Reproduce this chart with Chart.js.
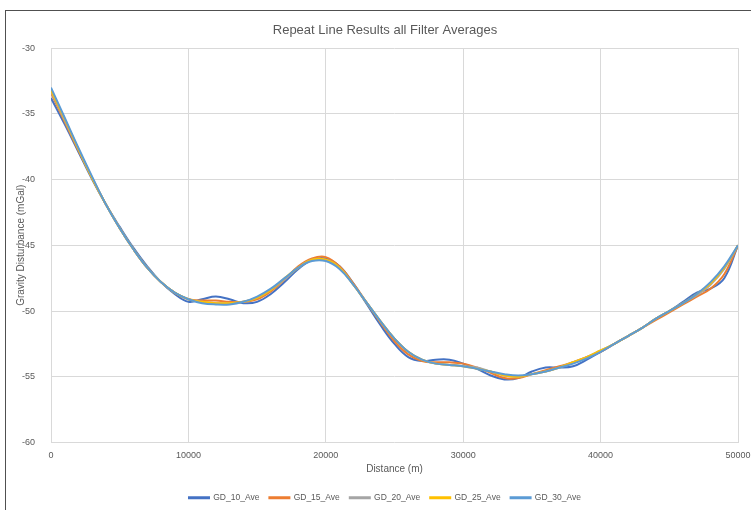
<!DOCTYPE html>
<html>
<head>
<meta charset="utf-8">
<script src="https://cdn.jsdelivr.net/npm/chart.js@4"></script>
<style>
  html, body { margin: 0; padding: 0; background: #fff; }
  body { width: 751px; height: 510px; overflow: hidden; position: relative; }
  #frame { position: absolute; left: 5px; top: 10px; width: 900px; height: 700px; border: 1px solid #505050; box-sizing: border-box; }
  #wrap { position: absolute; left: 0; top: 0; width: 751px; height: 510px; }
</style>
</head>
<body>
<div id="frame"></div>
<div id="wrap"><canvas id="c" width="751" height="510"></canvas></div>
<script>
// Distance along the repeat line (m)
const distance = [
  0, 1000, 2000, 3000, 4000, 5000, 6000, 7000, 8000, 9000,
  10000, 11000, 12000, 13000, 14000, 15000, 16000, 17000, 18000, 19000,
  20000, 21000, 22000, 23000, 24000, 25000, 26000, 27000, 28000, 29000,
  30000, 31000, 32000, 33000, 34000, 35000, 36000, 37000, 38000, 39000,
  40000, 41000, 42000, 43000, 44000, 45000, 46000, 47000, 48000, 49000,
  50000
];

// Gravity disturbance (mGal) for each filter average
const gd10 = [
  -33.8, -35.8, -37.9, -40.0, -41.9, -43.6, -45.2, -46.6, -47.8, -48.7,
  -49.3, -49.1, -48.9, -49.1, -49.4, -49.3, -48.7, -47.8, -46.8, -46.1,
  -46.0, -46.6, -47.9, -49.5, -51.1, -52.5, -53.5, -53.8, -53.7, -53.7,
  -54.0, -54.4, -54.9, -55.2, -55.1, -54.6, -54.3, -54.3, -54.2, -53.7,
  -53.1, -52.5, -51.9, -51.3, -50.6, -50.0, -49.3, -48.6, -48.3, -47.5,
  -45.0
];
const gd15 = [
  -33.4, -35.6, -37.8, -39.9, -41.9, -43.7, -45.3, -46.7, -47.8, -48.6,
  -49.1, -49.2, -49.2, -49.3, -49.3, -49.1, -48.5, -47.6, -46.6, -46.0,
  -45.9, -46.6, -47.9, -49.4, -50.9, -52.3, -53.3, -53.8, -53.9, -53.9,
  -54.0, -54.3, -54.7, -55.1, -55.1, -54.8, -54.5, -54.2, -53.9, -53.5,
  -53.1, -52.5, -51.9, -51.3, -50.7, -50.1, -49.5, -48.9, -48.3, -47.2,
  -45.0
];
const gd20 = [
  -33.3, -35.5, -37.7, -39.9, -41.9, -43.7, -45.3, -46.7, -47.8, -48.6,
  -49.1, -49.3, -49.4, -49.4, -49.3, -49.0, -48.4, -47.6, -46.7, -46.1,
  -46.1, -46.7, -48.0, -49.4, -50.8, -52.1, -53.1, -53.7, -54.0, -54.1,
  -54.2, -54.3, -54.6, -54.9, -55.0, -54.8, -54.6, -54.3, -53.9, -53.5,
  -53.0, -52.5, -51.9, -51.3, -50.6, -50.0, -49.4, -48.8, -48.0, -46.8,
  -45.0
];
const gd25 = [
  -33.2, -35.4, -37.7, -39.9, -41.9, -43.7, -45.3, -46.7, -47.8, -48.6,
  -49.1, -49.3, -49.4, -49.4, -49.3, -49.0, -48.4, -47.5, -46.7, -46.1,
  -46.1, -46.7, -48.0, -49.4, -50.8, -52.1, -53.1, -53.7, -54.0, -54.1,
  -54.2, -54.4, -54.6, -54.9, -55.0, -54.8, -54.6, -54.3, -53.9, -53.5,
  -53.0, -52.5, -51.9, -51.3, -50.6, -50.0, -49.4, -48.7, -47.9, -46.7,
  -45.0
];
const gd30 = [
  -33.0, -35.3, -37.6, -39.8, -41.9, -43.7, -45.3, -46.7, -47.8, -48.6,
  -49.1, -49.4, -49.5, -49.5, -49.3, -48.9, -48.3, -47.5, -46.7, -46.2,
  -46.2, -46.8, -48.0, -49.4, -50.8, -52.1, -53.1, -53.7, -54.0, -54.1,
  -54.2, -54.4, -54.6, -54.8, -54.9, -54.8, -54.6, -54.3, -54.0, -53.6,
  -53.1, -52.5, -51.9, -51.3, -50.6, -50.0, -49.4, -48.7, -47.8, -46.6,
  -45.0
];

const seriesNames = ['GD_10_Ave', 'GD_15_Ave', 'GD_20_Ave', 'GD_25_Ave', 'GD_30_Ave'];
const seriesValues = [gd10, gd15, gd20, gd25, gd30];
const seriesColors = ['#4472C4', '#ED7D31', '#A5A5A5', '#FFC000', '#5B9BD5'];

const FONT = "'Liberation Sans', Arial, sans-serif";
const TXT = '#595959';
const GRID = '#D9D9D9';

const datasets = seriesValues.map((vals, i) => ({
  label: seriesNames[i],
  data: distance.map((x, j) => ({ x: x, y: vals[j] })),
  borderColor: seriesColors[i],
  backgroundColor: seriesColors[i],
  borderWidth: 2,
  pointRadius: 0,
  tension: 0.4,
  showLine: true,
  fill: false,
  order: 5 - i
}));

new Chart(document.getElementById('c'), {
  type: 'scatter',
  data: { datasets: datasets },
  options: {
    responsive: false,
    animation: false,
    events: [],
    // the chart frame runs past the right edge, so title and legend centre further right
    layout: { padding: { left: 5, right: -14, top: 0, bottom: -2 } },
    plugins: {
      tooltip: { enabled: false },
      title: {
        display: true,
        text: 'Repeat Line Results all Filter Averages',
        color: TXT,
        font: { family: FONT, size: 13, weight: 'normal' },
        padding: { top: 22.5, bottom: 10 }
      },
      legend: {
        position: 'bottom',
        labels: {
          color: TXT,
          font: { family: FONT, size: 8.5 },
          boxWidth: 20,
          boxHeight: 1,
          padding: 10,
          sort: (a, b) => a.datasetIndex - b.datasetIndex
        }
      }
    },
    scales: {
      x: {
        type: 'linear',
        min: 0,
        max: 50000,
        border: { display: false },
        grid: { color: GRID, lineWidth: 1, drawTicks: false },
        ticks: {
          stepSize: 10000, color: TXT, font: { family: FONT, size: 9 }, padding: 8, maxRotation: 0,
          callback: (v) => String(v)
        },
        title: { display: true, text: 'Distance (m)', color: TXT, font: { family: FONT, size: 10 }, padding: { top: 4, bottom: 8 } },
        afterFit: (scale) => { scale.height = 41; scale.paddingRight = 13; scale.paddingLeft = 0; }
      },
      y: {
        type: 'linear',
        min: -60,
        max: -30,
        border: { display: false },
        grid: { color: GRID, lineWidth: 1, drawTicks: false },
        ticks: { stepSize: 5, color: TXT, font: { family: FONT, size: 9 }, padding: 16, callback: (v) => String(v) },
        title: { display: true, text: 'Gravity Disturbance (mGal)', color: TXT, font: { family: FONT, size: 10 }, padding: { top: 10, bottom: 0 } },
        afterFit: (scale) => { scale.width = 46; }
      }
    }
  }
});
</script>
</body>
</html>
